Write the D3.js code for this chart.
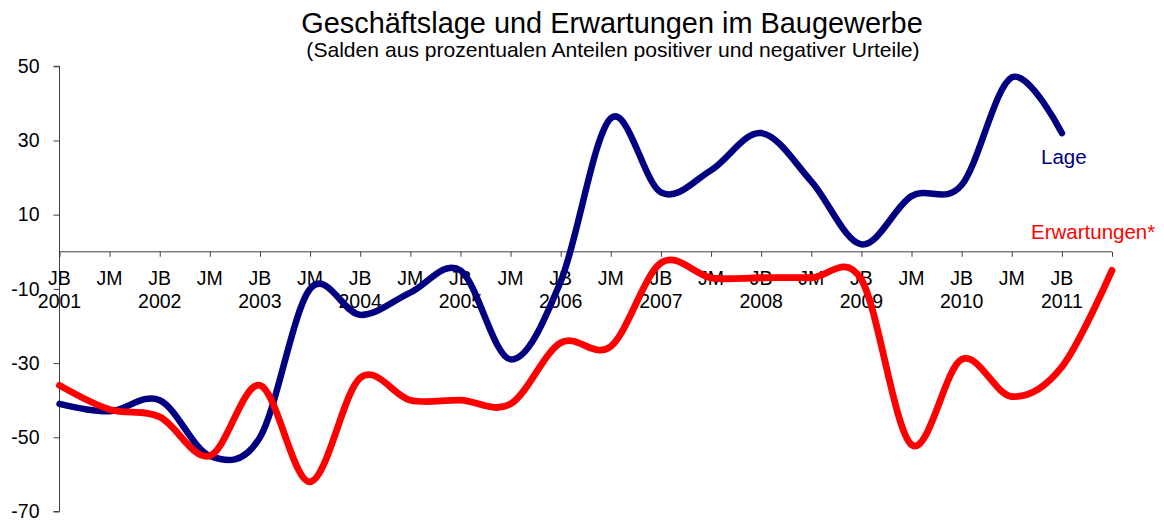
<!DOCTYPE html>
<html>
<head>
<meta charset="utf-8">
<script src="https://cdn.jsdelivr.net/npm/d3@7"></script>
<style>
  body { margin: 0; background: #fff; }
  text { font-family: "Liberation Sans", Arial, sans-serif; }
</style>
</head>
<body>
<div id="chart"></div>
<script>
// half-year survey dates: JB = Jahresbeginn, JM = Jahresmitte
var periods = ["JB", "JM", "JB", "JM", "JB", "JM", "JB", "JM", "JB", "JM", "JB",
               "JM", "JB", "JM", "JB", "JM", "JB", "JM", "JB", "JM", "JB", ""];
var years = ["2001", "", "2002", "", "2003", "", "2004", "", "2005", "", "2006",
             "", "2007", "", "2008", "", "2009", "", "2010", "", "2011", ""];

var lage = [-41, -43, -40, -55, -50, -10, -17, -11, -5, -29, -8,
            36, 16, 22, 32, 19, 2, 15, 18, 47, 32];
var erwartungen = [-36, -42.5, -44.5, -55, -36, -62, -34, -40, -40, -41, -24.5,
                   -25.5, -3, -7, -7, -7, -7.5, -52, -29, -39, -31, -5];

var yTicks = [50, 30, 10, -10, -30, -50, -70];

var width = 1164, height = 523;

var svg = d3.select("#chart")
  .append("svg")
    .attr("width", width)
    .attr("height", height);

var x = d3.scalePoint()
    .domain(d3.range(periods.length))
    .range([59.5, 1112]);

var y = d3.scaleLinear()
    .domain([-70, 50])
    .range([511.5, 66.3]);

// title
svg.append("text")
    .attr("x", 612)
    .attr("y", 33)
    .attr("text-anchor", "middle")
    .attr("font-size", "28.9px")
    .attr("fill", "#000")
    .text("Geschäftslage und Erwartungen im Baugewerbe");

svg.append("text")
    .attr("x", 613)
    .attr("y", 57)
    .attr("text-anchor", "middle")
    .attr("font-size", "21.1px")
    .attr("fill", "#000")
    .text("(Salden aus prozentualen Anteilen positiver und negativer Urteile)");

// y axis
var yAxis = d3.axisLeft(y)
    .tickValues(yTicks)
    .tickSize(6)
    .tickPadding(14)
    .tickFormat(function(d) { return String(d); });

var gy = svg.append("g")
    .attr("class", "axis axis--y")
    .attr("transform", "translate(" + x(0) + ",0)")
    .call(yAxis);

gy.select(".domain").attr("stroke", "#404040").attr("d", "M-6," + y(50) + "H0V" + y(-70) + "H-6");
gy.selectAll(".tick line").attr("stroke", "#404040");
gy.selectAll(".tick text")
    .attr("font-size", "19.5px")
    .attr("font-family", "Liberation Sans, Arial, sans-serif")
    .attr("fill", "#000");

// x axis along zero
var xAxis = d3.axisBottom(x)
    .tickSize(5)
    .tickFormat("");

var gx = svg.append("g")
    .attr("class", "axis axis--x")
    .attr("transform", "translate(0," + y(0) + ")")
    .call(xAxis);

gx.select(".domain").attr("stroke", "#404040").attr("d", "M" + x(0) + ",0H" + x(periods.length - 1));
gx.selectAll(".tick line").attr("stroke", "#404040");

var labels = svg.append("g").attr("class", "xlabels");

labels.selectAll("text.period")
    .data(periods)
  .enter().append("text")
    .attr("class", "period")
    .attr("x", function(d, i) { return x(i); })
    .attr("y", 285)
    .attr("text-anchor", "middle")
    .attr("font-size", "19.5px")
    .attr("fill", "#000")
    .text(function(d) { return d; });

labels.selectAll("text.year")
    .data(years)
  .enter().append("text")
    .attr("class", "year")
    .attr("x", function(d, i) { return x(i); })
    .attr("y", 308)
    .attr("text-anchor", "middle")
    .attr("font-size", "19.5px")
    .attr("fill", "#000")
    .text(function(d) { return d; });

// lines
var line = d3.line()
    .x(function(d, i) { return x(i); })
    .y(function(d) { return y(d); })
    .curve(d3.curveCatmullRom.alpha(0));

svg.append("path")
    .datum(lage)
    .attr("fill", "none")
    .attr("stroke", "#000080")
    .attr("stroke-width", 6.5)
    .attr("stroke-linecap", "round")
    .attr("stroke-linejoin", "round")
    .attr("d", line);

svg.append("path")
    .datum(erwartungen)
    .attr("fill", "none")
    .attr("stroke", "#ff0000")
    .attr("stroke-width", 6.8)
    .attr("stroke-linecap", "round")
    .attr("stroke-linejoin", "round")
    .attr("d", line);

// series labels
svg.append("text")
    .attr("x", 1041)
    .attr("y", 164)
    .attr("font-size", "20.5px")
    .attr("fill", "#000080")
    .text("Lage");

svg.append("text")
    .attr("x", 1031)
    .attr("y", 239)
    .attr("font-size", "20.5px")
    .attr("fill", "#ff0000")
    .text("Erwartungen*");
</script>
</body>
</html>
